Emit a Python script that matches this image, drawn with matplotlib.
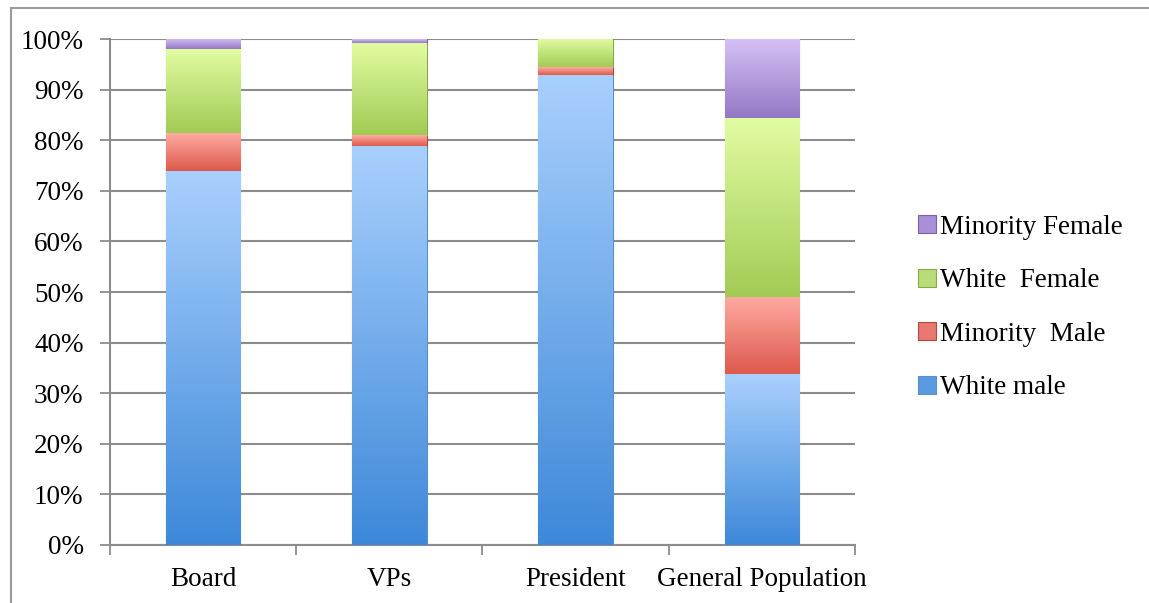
import matplotlib
matplotlib.use("Agg")
import matplotlib.pyplot as plt
import numpy as np
from matplotlib.colors import LinearSegmentedColormap
from matplotlib.patches import Rectangle, Patch

categories = ["Board", "VPs", "President", "General Population"]
series_names = ["White male", "Minority  Male", "White  Female", "Minority Female"]
white_male = [74.0, 78.9, 92.9, 33.7]
minority_male = [7.4, 2.1, 1.5, 15.4]
white_female = [16.6, 18.3, 5.6, 35.2]
minority_female = [2.0, 0.7, 0.0, 15.7]
y_ticks = [0, 10, 20, 30, 40, 50, 60, 70, 80, 90, 100]

# light top / dark bottom of each segment
shades = [("#a9d0fd", "#3d88d9"),
          ("#ffaba2", "#dc5a4c"),
          ("#e2fca2", "#a2cb55"),
          ("#d6c2f6", "#9478c6")]
edges = ["#5b8fc8", "#b04a40", "#86a84a", "#7a62a6"]
legend_colors = ["#5a9ae0", "#e87870", "#b8dc78", "#a890d8"]

plt.rcParams["font.family"] = ["Liberation Serif", "DejaVu Serif"]

fig = plt.figure(figsize=(11.49, 6.03), dpi=100)
ax = fig.add_axes([0.0957, 0.0962, 0.6484, 0.8391])

x = np.arange(len(categories))
bottom = np.zeros(len(categories))
grad = np.linspace(1, 0, 256).reshape(-1, 1)
for vals, (top_c, bot_c), ec in zip([white_male, minority_male, white_female, minority_female], shades, edges):
    vals = np.array(vals)
    bars = ax.bar(x, vals, 0.4, bottom=bottom, color=bot_c, edgecolor=ec, linewidth=0.8, zorder=3)
    cmap = LinearSegmentedColormap.from_list("g", [bot_c, top_c])
    for b in bars:
        if b.get_height() <= 0:
            continue
        x0, y0 = b.get_x(), b.get_y()
        im = ax.imshow(grad, cmap=cmap, aspect="auto", zorder=3.5,
                       extent=[x0, x0 + b.get_width(), y0, y0 + b.get_height()])
        im.set_clip_path(b)
    bottom += vals

ax.set_xlim(-0.5, len(categories) - 0.5)
ax.set_ylim(0, 100)
ax.set_yticks(y_ticks)
ax.set_yticklabels([f"{v}%" for v in y_ticks])
ax.yaxis.grid(True, color="#8c8c8c", linewidth=1.5, zorder=0)
ax.set_axisbelow(True)

ax.set_xticks(x)
ax.set_xticklabels(categories)
ax.set_xticks(np.arange(-0.5, len(categories)), minor=True)
ax.tick_params(axis="x", which="major", length=0, pad=16, labelsize=19.5)
ax.tick_params(axis="x", which="minor", length=7, width=1.3, color="#8c8c8c", direction="out")
ax.tick_params(axis="y", length=7, width=1.3, color="#8c8c8c", pad=12, labelsize=19.5)

for s in ["top", "right"]:
    ax.spines[s].set_visible(False)
for s in ["left", "bottom"]:
    ax.spines[s].set_color("#8c8c8c")
    ax.spines[s].set_linewidth(1.5)

handles = [Patch(facecolor=c, edgecolor=e, linewidth=0.8) for c, e in zip(legend_colors, edges)]
fig.legend(handles[::-1], series_names[::-1], loc="center left", bbox_to_anchor=(0.778, 0.49),
           frameon=False, fontsize=19.5, handlelength=0.65, handleheight=0.65,
           handletextpad=0.15, labelspacing=1.05)

# chart frame (cropped on right and bottom)
fig.patches.append(Rectangle((0.0096, -0.1), 1.2, 1.0867, transform=fig.transFigure,
                             fill=False, edgecolor="#9a9a9a", linewidth=1.5))

fig.savefig("out.png", dpi=100)
